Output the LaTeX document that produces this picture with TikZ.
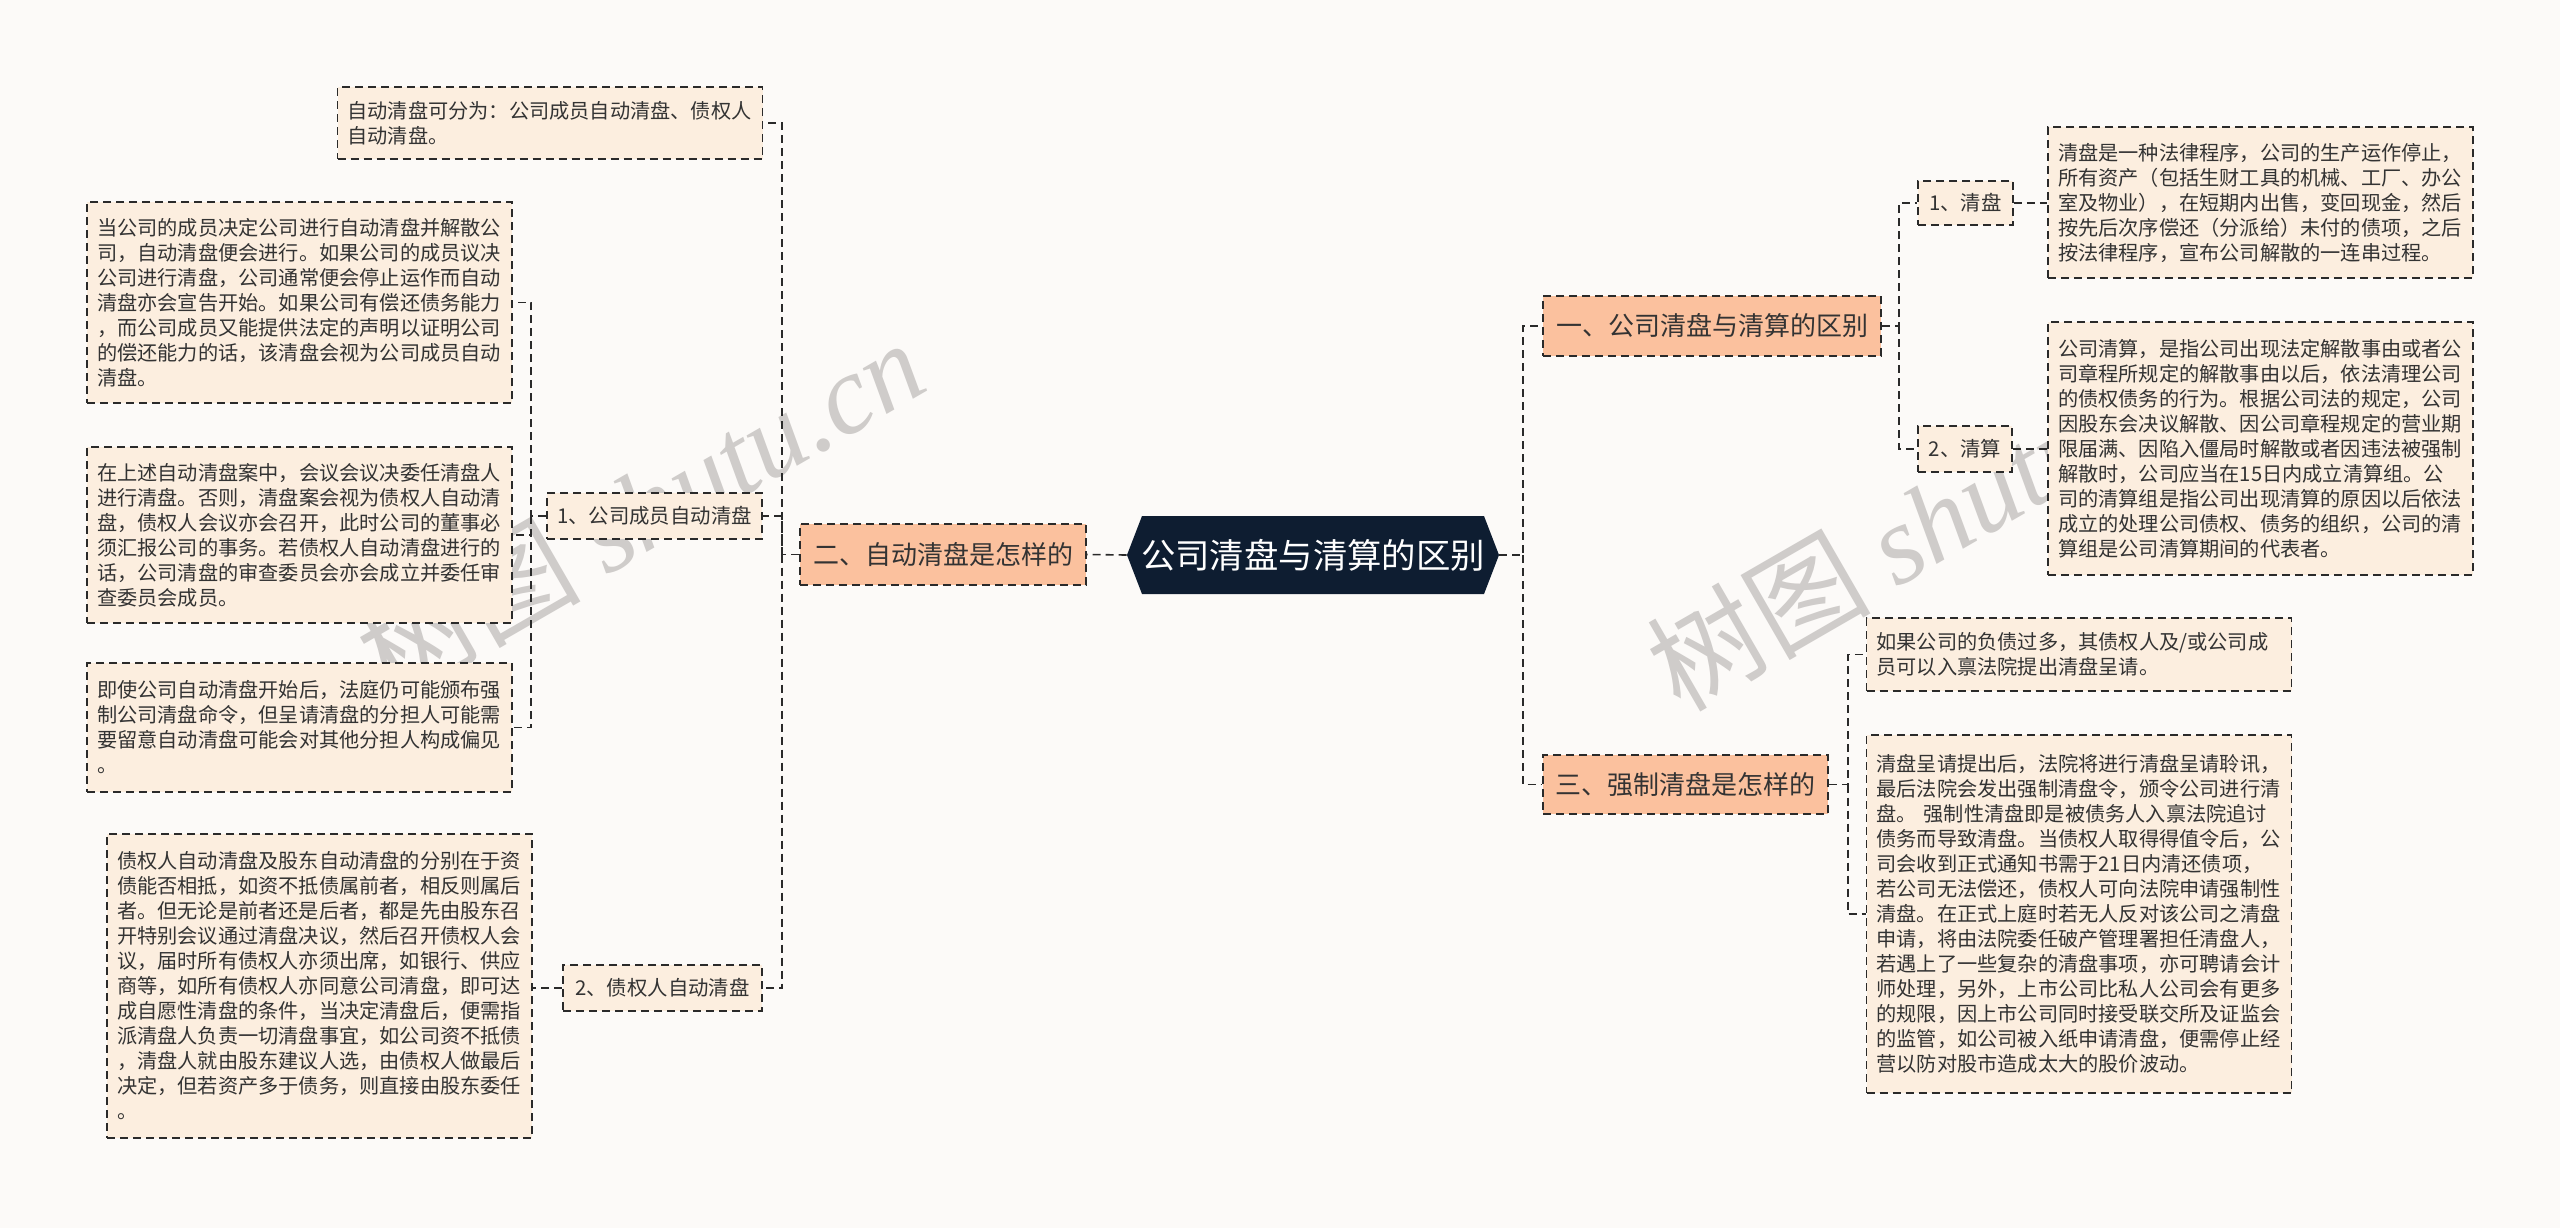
\documentclass[tikz,border=0pt]{standalone}
\usepackage{fontspec}
\setmainfont{Noto Sans CJK SC}
\newfontfamily\wmserif{Liberation Serif}
\usetikzlibrary{calc}
\definecolor{bgc}{HTML}{FCFAF8}
\definecolor{leafc}{HTML}{FCEEDF}
\definecolor{salmon}{HTML}{FBC19E}
\definecolor{navy}{HTML}{0E1D31}
\definecolor{bordc}{HTML}{2A2A2A}
\definecolor{txtc}{HTML}{333333}
\definecolor{wmc}{HTML}{CFCCCA}
\tikzset{
  dpat/.style={dash pattern=on 4pt off 2.5pt},
  leaf/.style={draw=bordc, dpat, fill=leafc, line width=0.9pt, inner xsep=5pt, inner ysep=0pt,
    align=left, text width=202.5pt, text=txtc, font=\fontsize{10.1pt}{12.5pt}\selectfont},
  lvone/.style={draw=bordc, dpat, fill=salmon, line width=0.9pt, inner sep=0pt, align=center,
    text=txtc, font=\fontsize{13pt}{15pt}\selectfont},
  lvtwo/.style={draw=bordc, dpat, fill=leafc, line width=0.9pt, inner sep=0pt, align=center,
    text=txtc, font=\fontsize{10.2pt}{12pt}\selectfont},
  conn/.style={draw=bordc, dpat, line width=0.8pt},
  wmark/.style={text=wmc, rotate=30, inner sep=0pt}
}
\begin{document}
\begin{tikzpicture}[x=0.5pt, y=-0.5pt]
\path[use as bounding box, fill=bgc] (0,0) rectangle (2560,1228);

% watermarks
\node[wmark] (wm1) at (640,508) {\fontsize{56pt}{60pt}\selectfont 树图 {\wmserif\itshape shutu.cn}};
\node[wmark] (wm2) at (1930,520) {\fontsize{56pt}{60pt}\selectfont 树图 {\wmserif\itshape shutu.cn}};

% central node
\node[minimum width=186pt, minimum height=39pt, inner sep=0pt, text=white,
  font=\fontsize{17.2pt}{19pt}\selectfont,
  path picture={\fill[navy] (path picture bounding box.west)
    -- ([xshift=7.5pt]path picture bounding box.north west)
    -- ([xshift=-7.5pt]path picture bounding box.north east)
    -- (path picture bounding box.east)
    -- ([xshift=-7.5pt]path picture bounding box.south east)
    -- ([xshift=7.5pt]path picture bounding box.south west) -- cycle;}]
  (c) at (1313,555) {公司清盘与清算的区别};

% level one
\node[lvone, minimum width=143pt, minimum height=30.5pt] (L2) at (943,554.5) {二、自动清盘是怎样的};
\node[lvone, minimum width=169pt, minimum height=30pt] (R1) at (1712,326) {一、公司清盘与清算的区别};
\node[lvone, minimum width=142.5pt, minimum height=29.5pt] (R3) at (1685.5,784.5) {三、强制清盘是怎样的};

% level two
\node[lvtwo, minimum width=107.5pt, minimum height=23pt] (M1) at (654.5,516) {1、公司成员自动清盘};
\node[lvtwo, minimum width=99.5pt, minimum height=23pt] (M2) at (662.5,988) {2、债权人自动清盘};
\node[lvtwo, minimum width=47.5pt, minimum height=22pt] (N1) at (1965.5,203) {1、清盘};
\node[lvtwo, minimum width=47pt, minimum height=23pt] (N2) at (1965,449) {2、清算};

% leaves
\node[leaf, minimum height=36pt] (A) at (550,123) {自动清盘可分为：公司成员自动清盘、债权人\\自动清盘。};
\node[leaf, minimum height=100.5pt] (B) at (299.5,302.5) {当公司的成员决定公司进行自动清盘并解散公\\司，自动清盘便会进行。如果公司的成员议决\\公司进行清盘，公司通常便会停止运作而自动\\清盘亦会宣告开始。如果公司有偿还债务能力\\，而公司成员又能提供法定的声明以证明公司\\的偿还能力的话，该清盘会视为公司成员自动\\清盘。};
\node[leaf, minimum height=88pt] (C) at (299.5,535) {在上述自动清盘案中，会议会议决委任清盘人\\进行清盘。否则，清盘案会视为债权人自动清\\盘，债权人会议亦会召开，此时公司的董事必\\须汇报公司的事务。若债权人自动清盘进行的\\话，公司清盘的审查委员会亦会成立并委任审\\查委员会成员。};
\node[leaf, minimum height=64.5pt] (D) at (299.5,727.5) {即使公司自动清盘开始后，法庭仍可能颁布强\\制公司清盘命令，但呈请清盘的分担人可能需\\要留意自动清盘可能会对其他分担人构成偏见\\。};
\node[leaf, minimum height=152pt] (E) at (319.5,986) {债权人自动清盘及股东自动清盘的分别在于资\\债能否相抵，如资不抵债属前者，相反则属后\\者。但无论是前者还是后者，都是先由股东召\\开特别会议通过清盘决议，然后召开债权人会\\议，届时所有债权人亦须出席，如银行、供应\\商等，如所有债权人亦同意公司清盘，即可达\\成自愿性清盘的条件，当决定清盘后，便需指\\派清盘人负责一切清盘事宜，如公司资不抵债\\，清盘人就由股东建议人选，由债权人做最后\\决定，但若资产多于债务，则直接由股东委任\\。};
\node[leaf, minimum height=75.5pt] (F) at (2260.5,202.5) {清盘是一种法律程序，公司的生产运作停止，\\所有资产（包括生财工具的机械、工厂、办公\\室及物业），在短期内出售，变回现金，然后\\按先后次序偿还（分派给）未付的债项，之后\\按法律程序，宣布公司解散的一连串过程。};
\node[leaf, minimum height=126.5pt] (G) at (2260.5,448.5) {公司清算，是指公司出现法定解散事由或者公\\司章程所规定的解散事由以后，依法清理公司\\的债权债务的行为。根据公司法的规定，公司\\因股东会决议解散、因公司章程规定的营业期\\限届满、因陷入僵局时解散或者因违法被强制\\解散时，公司应当在15日内成立清算组。公\\司的清算组是指公司出现清算的原因以后依法\\成立的处理公司债权、债务的组织，公司的清\\算组是公司清算期间的代表者。};
\node[leaf, minimum height=36.5pt] (H) at (2079,654.5) {如果公司的负债过多，其债权人及/或公司成\\员可以入禀法院提出清盘呈请。};
\node[leaf, minimum height=179pt] (I) at (2079,914) {清盘呈请提出后，法院将进行清盘呈请聆讯，\\最后法院会发出强制清盘令，颁令公司进行清\\盘。 强制性清盘即是被债务人入禀法院追讨\\债务而导致清盘。当债权人取得得值令后，公\\司会收到正式通知书需于21日内清还债项，\\若公司无法偿还，债权人可向法院申请强制性\\清盘。在正式上庭时若无人反对该公司之清盘\\申请，将由法院委任破产管理署担任清盘人，\\若遇上了一些复杂的清盘事项，亦可聘请会计\\师处理，另外，上市公司比私人公司会有更多\\的规限，因上市公司同时接受联交所及证监会\\的监管，如公司被入纸申请清盘，便需停止经\\营以防对股市造成太大的股价波动。};

% junctions
\coordinate (jL) at (782,554.5);
\coordinate (jM1) at (531,516);
\coordinate (jR) at (1523,555);
\coordinate (jR1) at (1899,326);
\coordinate (jR3) at (1848,784.5);

% connectors
\draw[conn] (c.west) -- (L2.east);
\draw[conn] (L2.west) -- (jL) |- (A.east);
\draw[conn] (jL) |- (M1.east);
\draw[conn] (jL) |- (M2.east);
\draw[conn] (M1.west) -- (jM1) |- (B.east);
\draw[conn] (jM1) |- (C.east);
\draw[conn] (jM1) |- (D.east);
\draw[conn] (M2.west) -- (E.east |- M2.west);
\draw[conn] (c.east) -- (jR) |- (R1.west);
\draw[conn] (jR) |- (R3.west);
\draw[conn] (R1.east) -- (jR1) |- (N1.west);
\draw[conn] (jR1) |- (N2.west);
\draw[conn] (N1.east) -- (F.west |- N1.east);
\draw[conn] (N2.east) -- (G.west |- N2.east);
\draw[conn] (R3.east) -- (jR3) |- (H.west);
\draw[conn] (jR3) |- (I.west);
\end{tikzpicture}
\end{document}
